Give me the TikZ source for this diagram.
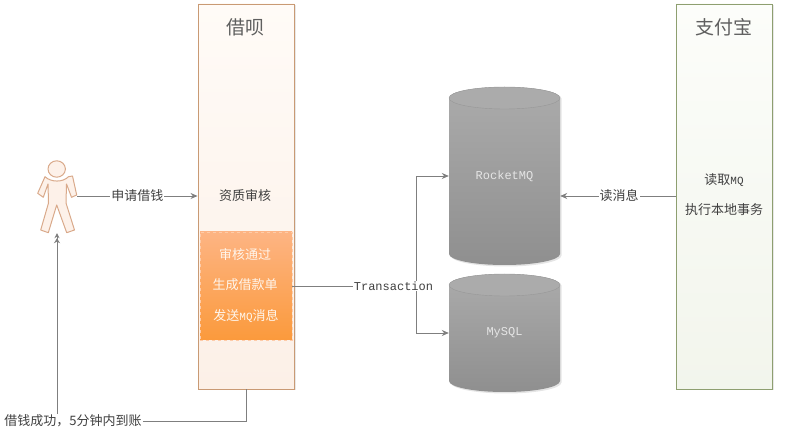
\documentclass[tikz,border=0pt]{standalone}
\usepackage{fontspec}
\setmainfont{Noto Sans CJK SC}
\setmonofont{Liberation Mono}
\usetikzlibrary{arrows.meta,shadows}
\definecolor{conn}{HTML}{7F7F7F}
\definecolor{txt}{HTML}{404040}
\definecolor{titletxt}{HTML}{5F5F5F}
\definecolor{personline}{HTML}{D9A98A}
\definecolor{personfill}{HTML}{FDF1E9}
\newcommand{\fs}[1]{\fontsize{#1}{#1}\selectfont}
\newcommand{\cylshape}[3]{% x-left, y-top, y-bottom
  \fill[black,opacity=.10] (#1+1.5,#2+11.5) arc[start angle=180,end angle=360,x radius=55.5,y radius=11] -- (#1+112.5,#3-9.5) arc[start angle=0,end angle=180,x radius=55.5,y radius=11] -- cycle;
  \path[top color=cyltop,bottom color=cylbot] (#1,#2+11) arc[start angle=180,end angle=360,x radius=55.5,y radius=11] -- (#1+111,#3-11) arc[start angle=0,end angle=180,x radius=55.5,y radius=11] -- cycle;
  \draw[cylline,fill=cyltop] (#1,#2+11) arc[start angle=180,end angle=-180,x radius=55.5,y radius=11];
}
\definecolor{cyltop}{HTML}{ABABAB}
\definecolor{cylbot}{HTML}{8F8F8F}
\definecolor{cylline}{HTML}{989898}
\tikzset{
  x=1pt,y=-1pt,
  connector/.style={draw=conn,line width=.8pt},
  arrowed/.style={connector,-{Stealth[length=7pt,width=6pt]}},
  doublearrowed/.style={connector,-{Stealth[length=5pt,width=6pt]Stealth[length=5pt,width=5pt]}},
  lanebox/.style={minimum width=96pt,minimum height=385pt,inner sep=0pt,line width=.9pt,
    drop shadow={opacity=.18,shadow xshift=1.5pt,shadow yshift=-1.5pt}},
  orangelane/.style={lanebox,draw=laneO,top color=laneOtop,bottom color=laneObot},
  greenlane/.style={lanebox,draw=laneG,top color=laneGtop,bottom color=laneGbot},
  lanetitle/.style={text=titletxt,font=\fs{19},inner sep=0pt},
  body/.style={text=txt,font=\fs{13},inner sep=0pt},
  whitebody/.style={text=white!92!orange,font=\fs{13},inner sep=0pt},
  edgelabel/.style={fill=white,text=txt,font=\fs{13},inner sep=1pt},
  cyl/.style={minimum width=111pt,inner sep=0pt,text=white!90!black,font=\ttfamily\fs{12}},
}
\definecolor{laneO}{HTML}{C99A74}
\definecolor{laneOtop}{HTML}{FFFBF7}
\definecolor{laneObot}{HTML}{FCF0E7}
\definecolor{laneG}{HTML}{8E9F70}
\definecolor{laneGtop}{HTML}{FCFDFA}
\definecolor{laneGbot}{HTML}{F2F5EC}
\definecolor{ordertop}{HTML}{FDB483}
\definecolor{orderbot}{HTML}{FB9A3C}
\begin{document}
\begin{tikzpicture}
\useasboundingbox (0,0) rectangle (806,427);
% swimlanes
\node[orangelane] (jiebei) at (246,196.5) {};
\node[greenlane] (zhifubao) at (724,196.5) {};
\node[lanetitle] (jiebeititle) at (245,27) {借呗};
\node[lanetitle] (zfbtitle) at (724,27) {支付宝};
% order box
\node[minimum width=92pt,minimum height=108pt,inner sep=0pt,draw=ordertop!70!white,dashed,line width=.7pt,
  top color=ordertop,bottom color=orderbot] (order) at (246,286) {};
\node[body] (audit) at (245,196) {资质审核};
\node[whitebody] (o1) at (245,254.5) {审核通过};
\node[whitebody] (o2) at (245,285) {生成借款单};
\node[whitebody] (o3) at (246,316) {发送{\ttfamily\fs{11}MQ}消息};
\node[body] (z1) at (724,180) {读取{\ttfamily\fs{11}MQ}};
\node[body] (z2) at (724,210) {执行本地事务};
% cylinders
\cylshape{449}{87}{265}
\cylshape{449}{274}{392}
\node[cyl,minimum height=178pt] (rocket) at (504.5,176) {RocketMQ};
\node[cyl,minimum height=118pt] (mysql) at (504.5,333) {MySQL};
% person
\node[minimum width=40pt,minimum height=72pt,inner sep=0pt] (person) at (57,197) {};
\begin{scope}[draw=personline,line width=1pt,fill=personfill,line join=round]
  \filldraw (56.7,169) ellipse[x radius=8.7,y radius=8.2];
  \filldraw (45,176.7) .. controls (51,182.5) and (63,182.5) .. (68.5,176.7)
    -- (72.5,176) -- (76.7,195) -- (71.5,197.3) -- (66.5,184) -- (66,203)
    -- (74.5,230) -- (66.7,232.7) -- (56.7,205) -- (48.3,232.7) -- (40.7,230)
    -- (48.5,203) -- (48,184) -- (43.3,197.3) -- (37.7,193.3) -- cycle;
\end{scope}
% connectors
\coordinate (readlvl) at (600,196);
\draw[arrowed] (person.east |- readlvl) -- node[edgelabel,pos=.5] (apply) {申请借钱} (jiebei.west |- readlvl);
\draw[arrowed] (zhifubao.west |- readlvl) -- node[edgelabel,pos=.49] (read) {读消息} (rocket.east |- readlvl);
\coordinate (branch) at (416.5,286);
\draw[connector] (order.east |- branch) -- (branch);
\draw[arrowed] (branch) |- (rocket.west);
\draw[arrowed] (branch) |- (mysql.west);
\node[edgelabel,font=\ttfamily\fs{12}] (trans) at (393.5,286) {Transaction};
\coordinate (bottomlvl) at (57,421);
\draw[doublearrowed] (jiebei.south) |- (bottomlvl) -- (person.south);
\node[edgelabel] (done) at (73,421) {借钱成功，5分钟内到账};
\end{tikzpicture}
\end{document}
